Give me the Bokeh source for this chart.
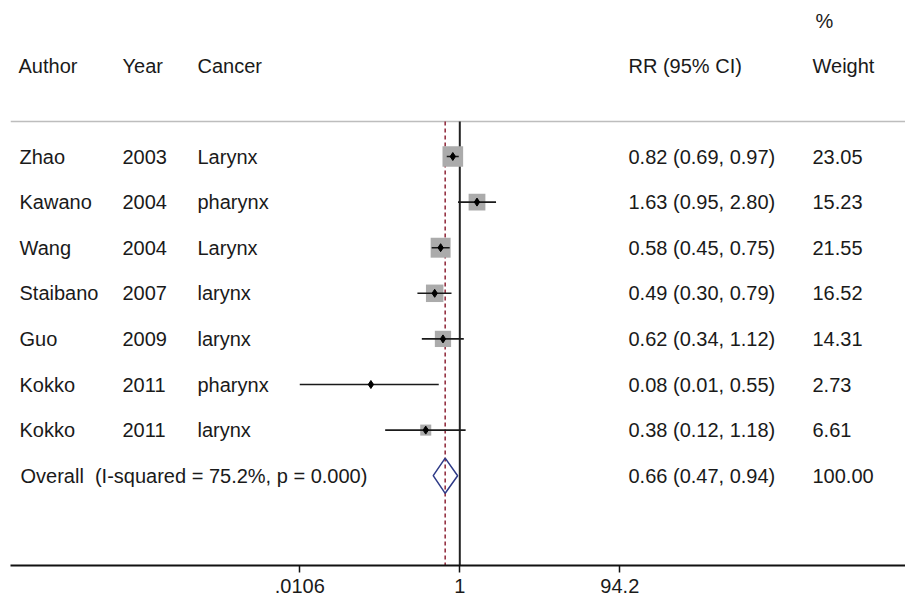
import math
from bokeh.plotting import figure
from bokeh.models import Range1d, FixedTicker, ColumnDataSource, LinearScale
from bokeh.embed import file_html
from bokeh.resources import INLINE
from bokeh.core.properties import value

# ---------------- data ----------------
authors = ["Zhao", "Kawano", "Wang", "Staibano", "Guo", "Kokko", "Kokko"]
years = ["2003", "2004", "2004", "2007", "2009", "2011", "2011"]
cancers = ["Larynx", "pharynx", "Larynx", "larynx", "larynx", "pharynx", "larynx"]
rr = [0.82, 1.63, 0.58, 0.49, 0.62, 0.08, 0.38]
rr_lo = [0.69, 0.95, 0.45, 0.30, 0.34, 0.0106, 0.12]
rr_hi = [0.97, 2.80, 0.75, 0.79, 1.12, 0.55, 1.18]
weights = [23.05, 15.23, 21.55, 16.52, 14.31, 2.73, 6.61]
rr_text = ["0.82 (0.69, 0.97)", "1.63 (0.95, 2.80)", "0.58 (0.45, 0.75)",
           "0.49 (0.30, 0.79)", "0.62 (0.34, 1.12)", "0.08 (0.01, 0.55)",
           "0.38 (0.12, 1.18)"]
weight_text = ["23.05", "15.23", "21.55", "16.52", "14.31", "2.73", "6.61"]

overall_label = "Overall\u00a0 (I-squared = 75.2%, p = 0.000)"
overall_rr = 0.66
overall_lo = 0.47
overall_hi = 0.94
overall_text = "0.66 (0.47, 0.94)"
overall_weight = "100.00"

headers = ["Author", "Year", "Cancer", "RR (95% CI)", "Weight"]
tick_values = [0.0106, 1, 94.2]
tick_labels = [".0106", "1", "94.2"]

# ---------------- layout ----------------
PAGE_OFF = 0
FRAME_L_PAGE, FRAME_R_PAGE = 10, 905
FRAME_T_PAGE, FRAME_B_PAGE = 0, 565
X1_PAGE = 459.3            # page x of RR = 1
PX_PER_DEC = 81.05
ROW0_PAGE = 156.0
ROW_STEP = 45.6

def page_to_row(py):
    return (py - ROW0_PAGE) / ROW_STEP

x_start = 10 ** ((FRAME_L_PAGE - X1_PAGE) / PX_PER_DEC)
x_end = 10 ** ((FRAME_R_PAGE - X1_PAGE) / PX_PER_DEC)
y_bottom = page_to_row(FRAME_B_PAGE)
y_top = page_to_row(FRAME_T_PAGE)
header_line_row = page_to_row(121)
header_row = page_to_row(65)
pct_row = page_to_row(20)

col_author, col_year, col_cancer, col_rr, col_weight, col_pct = 19, 122, 197, 628, 812, 815

FONT = value("Liberation Sans")
FSIZE = "20px"
TXT = "#1a1a1a"

p = figure(frame_width=FRAME_R_PAGE - FRAME_L_PAGE,
           frame_height=FRAME_B_PAGE - FRAME_T_PAGE,
           x_axis_type="log", y_axis_location=None,
           x_range=Range1d(x_start, x_end),
           y_range=Range1d(y_bottom, y_top),
           output_backend="svg", toolbar_location=None,
           min_border_left=FRAME_L_PAGE - PAGE_OFF, min_border_right=0,
           min_border_top=0, min_border_bottom=0)
p.extra_x_ranges["px"] = Range1d(FRAME_L_PAGE, FRAME_R_PAGE)
p.extra_x_scales["px"] = LinearScale()
p.outline_line_color = None
p.xgrid.visible = False
p.ygrid.visible = False
p.background_fill_color = "white"
p.border_fill_color = "white"

rows = list(range(len(authors)))
overall_row = len(authors)

# header rule
p.segment(x0=[FRAME_L_PAGE], x1=[FRAME_R_PAGE], y0=[header_line_row], y1=[header_line_row],
          x_range_name="px", line_color="#bdbdbd", line_width=1.6)

# null line and overall dashed line
p.segment(x0=[1], x1=[1], y0=[header_line_row], y1=[y_bottom],
          line_color="#222222", line_width=2)
p.segment(x0=[overall_rr], x1=[overall_rr], y0=[header_line_row], y1=[y_bottom],
          line_color="#8e2436", line_width=1.5, line_dash="4 3")

# weight boxes (area proportional to weight; very small weights not boxed)
bx, by, bs = [], [], []
for r, w, e in zip(rows, weights, rr):
    if w >= 5:
        bx.append(e); by.append(r); bs.append(4.3 * math.sqrt(w))
p.scatter(x=bx, y=by, size=bs, marker="square", fill_color="#ababab",
          line_color=None)

# CIs and point estimates
p.segment(x0=rr_lo, x1=rr_hi, y0=rows, y1=rows, line_color="#1a1a1a", line_width=1.6)
p.scatter(x=rr, y=rows, marker="diamond", size=8, fill_color="black", line_color="black")

# overall diamond
dh = 17.6 / ROW_STEP
p.patch(x=[overall_lo, overall_rr, overall_hi, overall_rr],
        y=[overall_row, overall_row - dh, overall_row, overall_row + dh],
        fill_color=None, line_color="#2e3a87", line_width=1.5)

def txt(xs, ys, texts):
    src = ColumnDataSource(dict(x=xs, y=ys, t=texts))
    p.text(x="x", y="y", text="t", source=src, x_range_name="px",
           text_font=FONT, text_font_size=FSIZE, text_color=TXT,
           text_baseline="middle", text_align="left")

# headers
txt([18, col_year, col_cancer, col_rr, col_weight], [header_row] * 5, headers)
txt([col_pct], [pct_row], ["%"])

# study rows
n = len(authors)
txt([col_author] * n, rows, authors)
txt([col_year] * n, rows, years)
txt([col_cancer] * n, rows, cancers)
txt([col_rr] * n, rows, rr_text)
txt([col_weight] * n, rows, weight_text)

# overall row
txt([20], [overall_row], [overall_label])
txt([col_rr], [overall_row], [overall_text])
txt([col_weight], [overall_row], [overall_weight])

# axis
ax = p.xaxis[0]
ax.ticker = FixedTicker(ticks=tick_values, minor_ticks=[])
ax.major_label_overrides = {v: l for v, l in zip(tick_values, tick_labels)}
ax.axis_line_color = "#111111"
ax.axis_line_width = 2
ax.major_tick_line_color = "#111111"
ax.major_tick_line_width = 1.5
ax.major_tick_in = 0
ax.major_tick_out = 7
ax.minor_tick_line_color = None
ax.major_label_standoff = 6
ax.major_label_text_font = "Liberation Sans"
ax.major_label_text_font_size = FSIZE
ax.major_label_text_color = TXT

open("out.html", "w").write(file_html(p, INLINE))
